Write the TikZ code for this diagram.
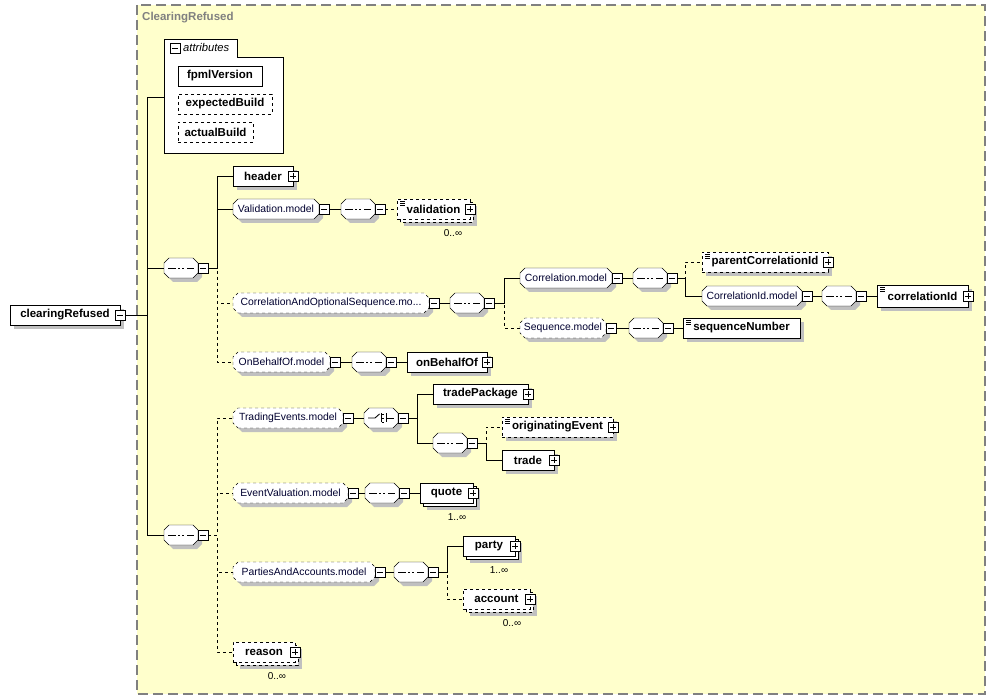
\documentclass[tikz,border=0pt]{standalone}
\usepackage{fontspec}
\setmainfont{Liberation Sans}

\definecolor{bgyellow}{RGB}{255,255,204}
\definecolor{framegray}{RGB}{128,128,128}
\definecolor{shadowgray}{RGB}{192,192,192}
\definecolor{modeltext}{RGB}{0,0,48}

\pgfdeclarelayer{bg}
\pgfsetlayers{bg,main}

% box with cut corners for model groups and compositors
\makeatletter
\pgfdeclareshape{octabox}{
  \inheritsavedanchors[from=rectangle]
  \inheritanchorborder[from=rectangle]
  \inheritanchor[from=rectangle]{center}
  \inheritanchor[from=rectangle]{north}
  \inheritanchor[from=rectangle]{south}
  \inheritanchor[from=rectangle]{east}
  \inheritanchor[from=rectangle]{west}
  \inheritanchor[from=rectangle]{north east}
  \inheritanchor[from=rectangle]{north west}
  \inheritanchor[from=rectangle]{south east}
  \inheritanchor[from=rectangle]{south west}
  \backgroundpath{%
    \southwest \edef\octxa{\the\pgf@x}\edef\octya{\the\pgf@y}%
    \northeast \edef\octxb{\the\pgf@x}\edef\octyb{\the\pgf@y}%
    \pgfpathmoveto{\pgfpoint{\octxa+5pt}{\octya}}%
    \pgfpathlineto{\pgfpoint{\octxb-5pt}{\octya}}%
    \pgfpathlineto{\pgfpoint{\octxb}{\octya+5pt}}%
    \pgfpathlineto{\pgfpoint{\octxb}{\octyb-5pt}}%
    \pgfpathlineto{\pgfpoint{\octxb-5pt}{\octyb}}%
    \pgfpathlineto{\pgfpoint{\octxa+5pt}{\octyb}}%
    \pgfpathlineto{\pgfpoint{\octxa}{\octyb-5pt}}%
    \pgfpathlineto{\pgfpoint{\octxa}{\octya+5pt}}%
    \pgfpathclose
  }
}
\makeatother

% shadows, drawn on the bg layer
\newcommand{\boxshade}[1]{\fill[shadowgray] ([xshift=4pt,yshift=-4pt]#1.south west) rectangle ([xshift=4pt,yshift=-4pt]#1.north east);}
\newcommand{\octshade}[1]{\fill[shadowgray] ([xshift=9pt,yshift=-4pt]#1.south west) -- ([xshift=-1pt,yshift=-4pt]#1.south east)
  -- ([xshift=4pt,yshift=1pt]#1.south east) -- ([xshift=4pt,yshift=-9pt]#1.north east) -- ([xshift=-1pt,yshift=-4pt]#1.north east)
  -- ([xshift=9pt,yshift=-4pt]#1.north west) -- ([xshift=4pt,yshift=-9pt]#1.north west) -- ([xshift=4pt,yshift=1pt]#1.south west) -- cycle;}
\newcommand{\multishade}[2]{\fill[shadowgray] ([xshift=7pt,yshift=-7pt]#1.south west) rectangle ([xshift=7pt,yshift=-7pt]#1.north east);
  \draw[fill=white,#2] ([xshift=3pt,yshift=-3pt]#1.south west) rectangle ([xshift=3pt,yshift=-3pt]#1.north east);}

\tikzset{
  elem/.style={draw, fill=white, anchor=west, minimum height=20pt, inner sep=0pt, outer sep=0pt,
               font=\fontsize{11.5}{13}\selectfont\bfseries},
  optelem/.style={elem, dashed},
  model/.style={octabox, draw, fill=white, anchor=west, minimum height=20pt, inner sep=0pt, outer sep=0pt,
                font=\fontsize{10.4}{12}\selectfont, text=modeltext},
  optmodel/.style={model, dashed},
  seq/.style={model, minimum width=34pt, path picture={
      \draw[line width=0.9pt] ([xshift=4pt]path picture bounding box.west) -- ([xshift=-4pt]path picture bounding box.east);
      \foreach \d in {-5.5,-1.25,3.0}
        \fill ([xshift=\d pt, yshift=-1.3pt]path picture bounding box.center) rectangle ++(2.6pt,2.6pt);
    }},
  choice/.style={model, minimum width=34pt, path picture={
      \coordinate (pc) at (path picture bounding box.center);
      \draw[line width=0.9pt] ([xshift=-13pt]pc) -- ([xshift=-6pt]pc) -- ([xshift=-1.5pt,yshift=4pt]pc);
      \draw[line width=0.7pt] ([xshift=0.5pt,yshift=4.5pt]pc) -- ([xshift=0.5pt,yshift=-4.5pt]pc);
      \foreach \d in {-4,0,4} {
        \draw[line width=0.6pt] ([xshift=0.5pt,yshift=\d pt]pc) -- ++(2pt,0pt);
        \fill ([xshift=2.5pt,yshift=\d pt-1.3pt]pc) rectangle ++(2.6pt,2.6pt);
      }
      \draw[line width=0.7pt] ([xshift=5.5pt,yshift=4.5pt]pc) -- ([xshift=5.5pt,yshift=-4.5pt]pc);
      \draw[line width=0.9pt] ([xshift=5.5pt]pc) -- ([xshift=13pt]pc);
    }},
  listicon/.style={path picture={
      \foreach \k in {2.5,4.5,6.5}
        \draw[solid, line width=0.6pt] ([xshift=3pt,yshift=-\k pt]path picture bounding box.north west) -- ++(5pt,0pt);
    }},
  minusbox/.style={draw, solid, fill=white, minimum size=10pt, inner sep=0pt, outer sep=0pt, line width=0.9pt,
      path picture={\draw ([xshift=2pt]path picture bounding box.west) -- ([xshift=-2pt]path picture bounding box.east);}},
  plusbox/.style={minusbox,
      path picture={\draw ([xshift=2pt]path picture bounding box.west) -- ([xshift=-2pt]path picture bounding box.east);
                    \draw ([yshift=2pt]path picture bounding box.south) -- ([yshift=-2pt]path picture bounding box.north);}},
  mult/.style={inner sep=0pt, font=\fontsize{10}{12}\selectfont}
}

\begin{document}
\begin{tikzpicture}[x=1pt, y=-1pt, line width=0.9pt]
\useasboundingbox (0,0) rectangle (996,700);

% type frame
\begin{pgfonlayer}{bg}
\draw[fill=bgyellow, draw=framegray, line width=1.2pt, dash pattern=on 10pt off 5pt] (137,5) rectangle (985,694);
\end{pgfonlayer}
\node[anchor=west, inner sep=0pt, text=framegray, font=\fontsize{11.5}{13}\selectfont\bfseries] (title) at (142,18) {ClearingRefused};

% root element
\node[elem, minimum width=110pt] (root) at (10,315) {clearingRefused};
\node[minusbox] (root-m) at (root.east) {};

% attributes
\draw[fill=white] (164,39) -| (237,57) -| (283,153) -| (164,39) -- cycle;
\coordinate (attr) at (164,97);
\node[minusbox] (attr-m) at (175,48) {};
\node[anchor=west, inner sep=0pt, font=\fontsize{11.2}{13}\selectfont\itshape] (attr-t) at (183,48) {attributes};
\node[elem, minimum width=84pt] (fpmlVersion) at (178,76) {fpmlVersion};
\node[optelem, minimum width=94pt] (expectedBuild) at (178,104) {expectedBuild};
\node[optelem, minimum width=75pt] (actualBuild) at (178,132) {actualBuild};

% the two sequences
\node[seq] (seqA) at (164,268) {};
\node[minusbox, anchor=west] (seqA-m) at (seqA.east) {};
\node[seq] (seqB) at (164,535) {};
\node[minusbox, anchor=west] (seqB-m) at (seqB.east) {};

\draw (root-m.east) -- ++(22,0) |- (attr);
\draw (root-m.east) -- ++(22,0) |- (seqA.west);
\draw (root-m.east) -- ++(22,0) |- (seqB.west);

% upper sequence
\node[elem, minimum width=60pt] (header) at (233,176) {header};
\node[plusbox] (header-p) at (header.east) {};

\node[model, minimum width=86pt] (valmod) at (233,209) {Validation.model};
\node[minusbox, anchor=west] (valmod-m) at (valmod.east) {};
\node[seq] (valseq) at (341,209) {};
\node[minusbox, anchor=west] (valseq-m) at (valseq.east) {};
\node[optelem, listicon, minimum width=73pt] (validation) at (397,209) {validation};
\node[plusbox] (validation-p) at (validation.east) {};
\node[mult] (validation-n) at (453,233) {0..∞};

\node[optmodel, minimum width=196pt] (corrmod) at (233,303) {CorrelationAndOptionalSequence.mo...};
\node[minusbox, anchor=west] (corrmod-m) at (corrmod.east) {};
\node[seq] (corrseq) at (450,303) {};
\node[minusbox, anchor=west] (corrseq-m) at (corrseq.east) {};

\node[model, minimum width=92pt] (cmod) at (520,278) {Correlation.model};
\node[minusbox, anchor=west] (cmod-m) at (cmod.east) {};
\node[seq] (cseq) at (633,278) {};
\node[minusbox, anchor=west] (cseq-m) at (cseq.east) {};
\node[optelem, listicon, minimum width=126pt] (parentCorrelationId) at (702,262) {parentCorrelationId};
\node[plusbox] (parentCorrelationId-p) at (parentCorrelationId.east) {};
\node[model, minimum width=100pt] (cidmod) at (702,296) {CorrelationId.model};
\node[minusbox, anchor=west] (cidmod-m) at (cidmod.east) {};
\node[seq] (cidseq) at (822,296) {};
\node[minusbox, anchor=west] (cidseq-m) at (cidseq.east) {};
\node[elem, listicon, minimum width=91pt, minimum height=22pt] (correlationId) at (877,296) {correlationId};
\node[plusbox] (correlationId-p) at (correlationId.east) {};

\node[optmodel, minimum width=86pt] (smod) at (520,328) {Sequence.model};
\node[minusbox, anchor=west] (smod-m) at (smod.east) {};
\node[seq] (sseq) at (629,328) {};
\node[minusbox, anchor=west] (sseq-m) at (sseq.east) {};
\node[elem, listicon, minimum width=117pt] (sequenceNumber) at (683,328) {sequenceNumber};

\node[optmodel, minimum width=97pt] (bmod) at (233,362) {OnBehalfOf.model};
\node[minusbox, anchor=west] (bmod-m) at (bmod.east) {};
\node[seq] (bseq) at (352,362) {};
\node[minusbox, anchor=west] (bseq-m) at (bseq.east) {};
\node[elem, minimum width=80pt] (onBehalfOf) at (407,362) {onBehalfOf};
\node[plusbox] (onBehalfOf-p) at (onBehalfOf.east) {};

\draw (seqA-m.east) -- ++(9,0) |- (header.west);
\draw (seqA-m.east) -- ++(9,0) |- (valmod.west);
\draw[dashed] (seqA-m.east) -- ++(9,0) |- (corrmod.west);
\draw[dashed] (seqA-m.east) -- ++(9,0) |- (bmod.west);
\draw (valmod-m) -- (valseq);
\draw[dashed] (valseq-m) -- (validation);
\draw (corrmod-m) -- (corrseq);
\draw (corrseq-m.east) -- ++(10,0) |- (cmod.west);
\draw[dashed] (corrseq-m.east) -- ++(10,0) |- (smod.west);
\draw (cmod-m) -- (cseq);
\draw[dashed] (cseq-m.east) -- ++(8,0) |- (parentCorrelationId.west);
\draw (cseq-m.east) -- ++(8,0) |- (cidmod.west);
\draw (cidmod-m) -- (cidseq);
\draw (cidseq-m) -- (correlationId);
\draw (smod-m) -- (sseq);
\draw (sseq-m) -- (sequenceNumber);
\draw (bmod-m) -- (bseq);
\draw (bseq-m) -- (onBehalfOf);

% lower sequence
\node[optmodel, minimum width=110pt] (tmod) at (233,418) {TradingEvents.model};
\node[minusbox, anchor=west] (tmod-m) at (tmod.east) {};
\node[choice] (tchoice) at (364,418) {};
\node[minusbox, anchor=west] (tchoice-m) at (tchoice.east) {};
\node[elem, minimum width=95pt] (tradePackage) at (433,394) {tradePackage};
\node[plusbox] (tradePackage-p) at (tradePackage.east) {};
\node[seq] (tseq) at (433,443) {};
\node[minusbox, anchor=west] (tseq-m) at (tseq.east) {};
\node[optelem, listicon, minimum width=111pt] (originatingEvent) at (502,427) {originatingEvent};
\node[plusbox] (originatingEvent-p) at (originatingEvent.east) {};
\node[elem, minimum width=52pt] (trade) at (502,460) {trade};
\node[plusbox] (trade-p) at (trade.east) {};

\node[optmodel, minimum width=115pt] (emod) at (233,493) {EventValuation.model};
\node[minusbox, anchor=west] (emod-m) at (emod.east) {};
\node[seq] (eseq) at (365,493) {};
\node[minusbox, anchor=west] (eseq-m) at (eseq.east) {};
\node[elem, minimum width=53pt] (quote) at (420,493) {quote};
\node[plusbox] (quote-p) at (quote.east) {};
\node[mult] (quote-n) at (457,517) {1..∞};

\node[optmodel, minimum width=142pt] (pmod) at (233,572) {PartiesAndAccounts.model};
\node[minusbox, anchor=west] (pmod-m) at (pmod.east) {};
\node[seq] (pseq) at (394,572) {};
\node[minusbox, anchor=west] (pseq-m) at (pseq.east) {};
\node[elem, minimum width=52pt] (party) at (463,546) {party};
\node[plusbox] (party-p) at (party.east) {};
\node[mult] (party-n) at (499,570) {1..∞};
\node[optelem, minimum width=67pt] (account) at (463,599) {account};
\node[plusbox] (account-p) at (account.east) {};
\node[mult] (account-n) at (512,623) {0..∞};

\node[optelem, minimum width=62pt] (reason) at (233,652) {reason};
\node[plusbox] (reason-p) at (reason.east) {};
\node[mult] (reason-n) at (277,676) {0..∞};

\draw[dashed] (seqB-m.east) -- ++(9,0) |- (tmod.west);
\draw[dashed] (seqB-m.east) -- ++(9,0) |- (emod.west);
\draw[dashed] (seqB-m.east) -- ++(9,0) |- (pmod.west);
\draw[dashed] (seqB-m.east) -- ++(9,0) |- (reason.west);
\draw (tmod-m) -- (tchoice);
\draw (tchoice-m.east) -- ++(9,0) |- (tradePackage.west);
\draw (tchoice-m.east) -- ++(9,0) |- (tseq.west);
\draw[dashed] (tseq-m.east) -- ++(9,0) |- (originatingEvent.west);
\draw (tseq-m.east) -- ++(9,0) |- (trade.west);
\draw (emod-m) -- (eseq);
\draw (eseq-m) -- (quote);
\draw (pmod-m) -- (pseq);
\draw (pseq-m.east) -- ++(9,0) |- (party.west);
\draw[dashed] (pseq-m.east) -- ++(9,0) |- (account.west);

% shadows
\begin{pgfonlayer}{bg}
\foreach \n in {root,fpmlVersion,expectedBuild,actualBuild,header,parentCorrelationId,correlationId,
                sequenceNumber,onBehalfOf,tradePackage,originatingEvent,trade}
  \boxshade{\n};
\foreach \n in {seqA,seqB,valmod,valseq,corrmod,corrseq,cmod,cseq,cidmod,cidseq,smod,sseq,bmod,bseq,
                tmod,tchoice,tseq,emod,eseq,pmod,pseq}
  \octshade{\n};
\foreach \n/\s in {validation/dashed,quote/solid,party/solid,account/dashed,reason/dashed}
  \multishade{\n}{\s};
\end{pgfonlayer}
\end{tikzpicture}
\end{document}
